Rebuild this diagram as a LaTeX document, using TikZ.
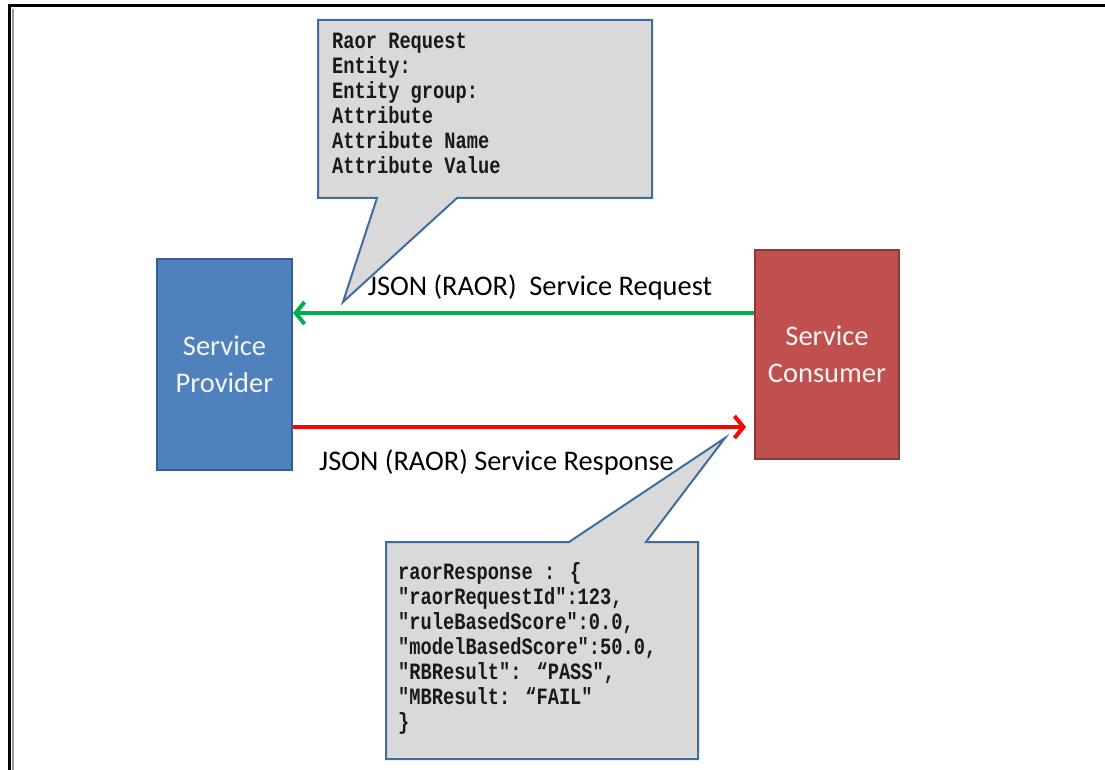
\documentclass[tikz,border=0pt]{standalone}
\usepackage{fontspec}
\setmainfont{Carlito}
\newfontfamily\codefont{Liberation Mono}
\usetikzlibrary{arrows.meta}

\definecolor{provfill}{RGB}{79,129,189}
\definecolor{provedge}{RGB}{56,93,138}
\definecolor{consfill}{RGB}{192,80,77}
\definecolor{consedge}{RGB}{140,56,54}
\definecolor{calloutfill}{RGB}{217,217,217}
\definecolor{calloutedge}{RGB}{65,108,158}
\definecolor{reqgreen}{RGB}{0,176,80}
\definecolor{respred}{RGB}{255,0,0}

\begin{document}
\begin{tikzpicture}[x=1pt,y=-1pt,
  actor/.style={rectangle, line width=2pt, minimum width=#1, text=white!96!black,
    align=center, font=\fontsize{28.5}{37}\selectfont, inner sep=0pt},
  msglabel/.style={font=\fontsize{28.4}{32}\selectfont, text=black, inner sep=0pt},
  callout/.style={fill=calloutfill, draw=calloutedge, line width=2pt, line join=miter},
  codetext/.style={font=\codefont\bfseries\fontsize{18.7}{20}\selectfont,
    inner sep=0pt, anchor=base west, transform shape, text=black!90},
  flow/.style={line width=4pt, arrows={-Straight Barb[length=9pt,width=22pt,line width=4pt]}}
]
\useasboundingbox (0,0) rectangle (1105,770);
\fill[white] (0,0) rectangle (1105,770);

% page frame
\draw[line width=2pt, black!40] (12.5,9) -- (12.5,770);
\draw[line width=3pt] (9.5,770) -- (9.5,6) -- (1105,6);

% request callout
\draw[callout] (318,20) -- (652,20) -- (652,198) -- (457,198) -- (343,302)
  -- (377,198) -- (318,198) -- cycle;
\begin{scope}[shift={(332,49)}, yscale=1.25]
\node[codetext] (reqtext) at (0,0) {\begin{tabular}[t]{@{}l@{}}
Raor Request\\
Entity:\\
Entity group:\\
Attribute\\
Attribute Name\\
Attribute Value
\end{tabular}};
\end{scope}

% response callout
\draw[callout] (386,542) -- (569,542) -- (725,438) -- (646,542) -- (698,542)
  -- (698,759) -- (386,759) -- cycle;
\begin{scope}[shift={(398,579)}, yscale=1.25]
\node[codetext] (resptext) at (0,0) {\begin{tabular}[t]{@{}l@{}}
raorResponse : \{\\
"raorRequestId":123,\\
"ruleBasedScore":0.0,\\
"modelBasedScore":50.0,\\
"RBResult": “PASS",\\
"MBResult: “FAIL"\\
\}
\end{tabular}};
\end{scope}

% the two parties
\node[actor=135pt, minimum height=211pt, fill=provfill, draw=provedge]
  (provider) at (224.5,364.5) {Service\\Provider};
\node[actor=144pt, minimum height=209pt, fill=consfill, draw=consedge]
  (consumer) at (827,354.5) {Service\\Consumer};

% message labels
\node[msglabel] (reqlabel) at (540,287) {JSON (RAOR)\ \ Service Request};
\node[msglabel] (resplabel) at (496.5,462) {JSON (RAOR) Service Response};

% message flows
\coordinate (reqy) at (0,313);
\coordinate (respy) at (0,427);
\draw[flow, reqgreen] (consumer.west |- reqy) -- (provider.east |- reqy);
\draw[flow, respred, shorten >=8pt] (provider.east |- respy) -- (consumer.west |- respy);
\end{tikzpicture}
\end{document}
